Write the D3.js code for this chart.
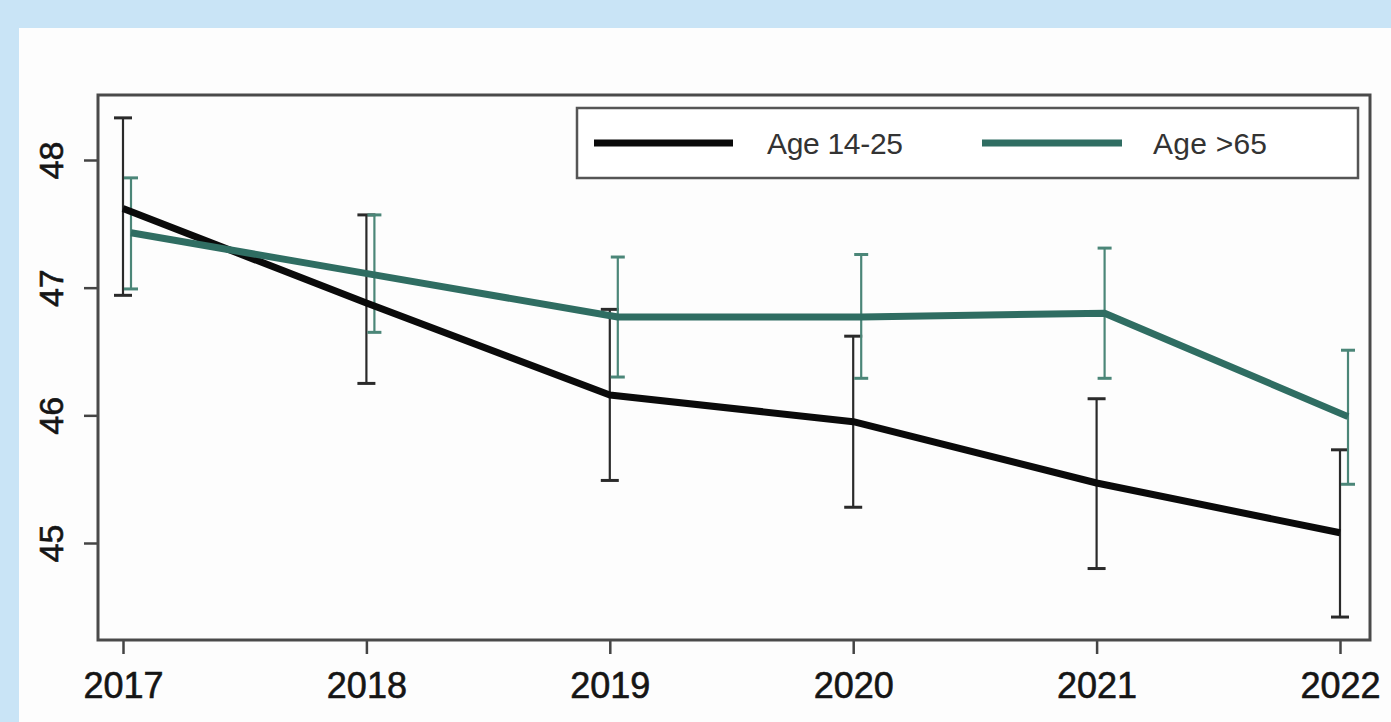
<!DOCTYPE html>
<html>
<head>
<meta charset="utf-8">
<script src="https://cdn.jsdelivr.net/npm/d3@7"></script>
<style>
  html, body { margin: 0; padding: 0; background: #c9e4f6; }
  svg { display: block; }
</style>
</head>
<body>
<svg id="chart" width="1391" height="722"></svg>
<script>
const years = [2017, 2018, 2019, 2020, 2021, 2022];
const yTicks = [45, 46, 47, 48];
const seriesNames = ["Age 14-25", "Age >65"];

const youngMean  = [47.62, 46.88, 46.16, 45.95, 45.47, 45.08];
const youngLower = [46.94, 46.25, 45.49, 45.28, 44.80, 44.42];
const youngUpper = [48.33, 47.57, 46.83, 46.62, 46.13, 45.73];

const oldMean  = [47.43, 47.10, 46.77, 46.77, 46.80, 45.99];
const oldLower = [46.99, 46.65, 46.30, 46.29, 46.29, 45.46];
const oldUpper = [47.86, 47.57, 47.24, 47.26, 47.31, 46.51];

const series = [
  { name: seriesNames[0], mean: youngMean, lo: youngLower, hi: youngUpper,
    color: "#0a0a0a", barColor: "#2a2a2a", dodge: 0, cap: 18 },
  { name: seriesNames[1], mean: oldMean, lo: oldLower, hi: oldUpper,
    color: "#2f6d62", barColor: "#4b8678", dodge: 8, cap: 14 }
];

const svg = d3.select("#chart");

// white panel
svg.append("rect").attr("x", 19).attr("y", 28).attr("width", 1391 - 19).attr("height", 722 - 28)
  .attr("fill", "#fdfdfd");

const box = { left: 98, top: 95, right: 1370, bottom: 640 };

const x = d3.scaleLinear().domain([2017, 2022]).range([123, 1340]);
const y = d3.scaleLinear().domain([45, 48]).range([543, 160]);

// x axis
const xAxis = d3.axisBottom(x).tickValues(years).tickFormat(d3.format("d")).tickSize(14).tickPadding(18);
const gx = svg.append("g").attr("transform", `translate(0,${box.bottom})`).call(xAxis);
gx.select(".domain").remove();
gx.selectAll(".tick line").attr("stroke", "#444").attr("stroke-width", 2.5);
gx.selectAll(".tick text").attr("font-family", "Liberation Sans, Arial, sans-serif")
  .attr("font-size", 36).attr("fill", "#151515")
  .attr("stroke", "#151515").attr("stroke-width", 0.6);

// y axis
const yAxis = d3.axisLeft(y).tickValues(yTicks).tickFormat(d3.format("d")).tickSize(14).tickPadding(0);
const gy = svg.append("g").attr("transform", `translate(${box.left},0)`).call(yAxis);
gy.select(".domain").remove();
gy.selectAll(".tick line").attr("stroke", "#444").attr("stroke-width", 2.5);
gy.selectAll(".tick text")
  .attr("font-family", "Liberation Sans, Arial, sans-serif")
  .attr("font-size", 34).attr("fill", "#151515")
  .attr("stroke", "#151515").attr("stroke-width", 0.6)
  .attr("x", 0).attr("dy", 0)
  .attr("text-anchor", "middle")
  .attr("transform", "translate(-35,0) rotate(-90)");

// error bars
series.forEach(s => {
  const g = svg.append("g");
  years.forEach((yr, i) => {
    const cx = x(yr) + s.dodge;
    g.append("line").attr("x1", cx).attr("x2", cx).attr("y1", y(s.lo[i])).attr("y2", y(s.hi[i]))
      .attr("stroke", s.barColor).attr("stroke-width", 2.2);
    [s.lo[i], s.hi[i]].forEach(v => {
      g.append("line").attr("x1", cx - s.cap / 2).attr("x2", cx + s.cap / 2)
        .attr("y1", y(v)).attr("y2", y(v))
        .attr("stroke", s.barColor).attr("stroke-width", 3);
    });
  });
});

// mean lines
series.forEach(s => {
  const line = d3.line().x((d, i) => x(years[i]) + s.dodge).y(d => y(d));
  svg.append("path").datum(s.mean).attr("d", line)
    .attr("fill", "none").attr("stroke", s.color).attr("stroke-width", 7)
    .attr("stroke-linejoin", "round");
});

// plot box
svg.append("rect").attr("x", box.left).attr("y", box.top)
  .attr("width", box.right - box.left).attr("height", box.bottom - box.top)
  .attr("fill", "none").attr("stroke", "#4a4a4a").attr("stroke-width", 3);

// legend
const leg = svg.append("g");
leg.append("rect").attr("x", 577).attr("y", 108).attr("width", 1358 - 577).attr("height", 70)
  .attr("fill", "#fff").attr("stroke", "#555").attr("stroke-width", 2.5);
const legItems = [
  { x1: 594, x2: 733, tx: 767 },
  { x1: 982, x2: 1122, tx: 1153 }
];
series.forEach((s, i) => {
  const it = legItems[i];
  leg.append("line").attr("x1", it.x1).attr("x2", it.x2).attr("y1", 143).attr("y2", 143)
    .attr("stroke", s.color).attr("stroke-width", 7);
  leg.append("text").attr("x", it.tx).attr("y", 154).text(s.name)
    .attr("font-family", "Liberation Sans, Arial, sans-serif").attr("font-size", 30)
    .attr("fill", "#333").attr("textLength", i === 0 ? 136 : 114);
});
</script>
</body>
</html>
